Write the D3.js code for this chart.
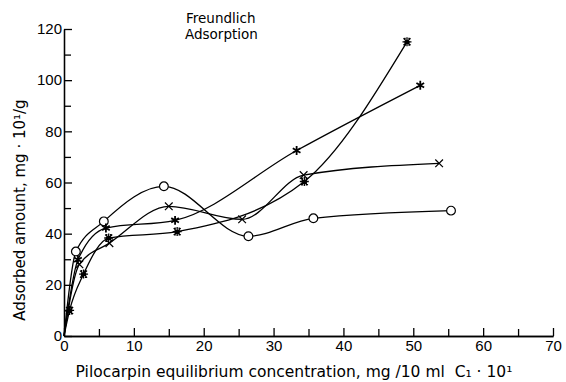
<!DOCTYPE html>
<html>
<head>
<meta charset="utf-8">
<script src="https://cdn.jsdelivr.net/npm/d3@7"></script>
<style>
  body { margin: 0; background: #fff; }
  svg { font-family: "DejaVu Sans", sans-serif; }
  .axis path, .axis line { stroke: #000; stroke-width: 1.3; }
  .axis text { font-size: 15px; fill: #000; }
</style>
</head>
<body>
<div class="chart"></div>
<script>
// values (x = concentration, y = adsorbed amount)
var circleX = [0, 1.7, 5.7, 14.3, 26.4, 35.7, 55.4];
var circleY = [0, 33, 44.8, 58.5, 39, 46, 49];
var crossX = [0, 2.2, 6.5, 15, 25.5, 34.3, 53.7];
var crossY = [0, 28, 36.3, 50.7, 45.6, 62.9, 67.5];
var starX = [0, 2, 6, 15.9, 33.3, 51];
var starY = [0, 29.8, 42.2, 45.2, 72.5, 98];
var hashX = [0, 0.8, 2.8, 6.4, 16.2, 34.4, 49.1];
var hashY = [0, 10, 24.2, 38.3, 40.8, 60.4, 115];
var xTicks = [0, 10, 20, 30, 40, 50, 60, 70];
var yTicks = [0, 20, 40, 60, 80, 100, 120];

var svgWidth = 566;
var svgHeight = 382;

var svg = d3.select('.chart')
  .append('svg')
  .attr('width', svgWidth)
  .attr('height', svgHeight);

var x = d3.scaleLinear().domain([0, 70]).range([64, 553]);
var y = d3.scaleLinear().domain([0, 120]).range([336, 29]);

// minor ticks first, then the labelled ones
svg.append('g').attr('class', 'axis')
  .attr('transform', 'translate(0,' + y(0) + ')')
  .call(d3.axisBottom(x).tickValues(d3.range(5, 70, 10)).tickSize(-7).tickSizeOuter(0).tickFormat(''));
svg.append('g').attr('class', 'axis')
  .attr('transform', 'translate(0,' + y(0) + ')')
  .call(d3.axisBottom(x).tickValues(xTicks).tickSize(-8).tickSizeOuter(0).tickPadding(4));

svg.append('g').attr('class', 'axis')
  .attr('transform', 'translate(' + x(0) + ',0)')
  .call(d3.axisLeft(y).tickValues(d3.range(10, 120, 20)).tickSize(-7).tickSizeOuter(0).tickFormat(''));
svg.append('g').attr('class', 'axis')
  .attr('transform', 'translate(' + x(0) + ',0)')
  .call(d3.axisLeft(y).tickValues(yTicks).tickSize(-8).tickSizeOuter(0).tickPadding(2));

var line = d3.line()
  .x(function(d) { return x(d[0]); })
  .y(function(d) { return y(d[1]); })
  .curve(d3.curveMonotoneX);

var series = [
  {xs: circleX, ys: circleY, mark: 'circle'},
  {xs: crossX, ys: crossY, mark: 'cross'},
  {xs: starX, ys: starY, mark: 'star'},
  {xs: hashX, ys: hashY, mark: 'hash'}
];

// hash-like marker: dense little asterisk
var hashPath = 'M-3.5,-3.5L3.5,3.5M-3.5,3.5L3.5,-3.5M0,-4.5L0,4.5M-4.5,0L4.5,0M-2,-4L-2,4M2,-4L2,4';

series.forEach(function(s) {
  var pts = s.xs.map(function(v, i) { return [v, s.ys[i]]; });
  svg.append('path')
    .datum(pts)
    .attr('d', line)
    .attr('fill', 'none')
    .attr('stroke', '#000')
    .attr('stroke-width', 1.3);

  var marks = svg.selectAll(null)
    .data(pts.slice(1))
    .enter()
    .append('path')
    .attr('transform', function(d) { return 'translate(' + x(d[0]) + ',' + y(d[1]) + ')'; })
    .attr('stroke', '#000');

  if (s.mark == 'circle') {
    marks.attr('d', d3.symbol().type(d3.symbolCircle).size(60)).attr('fill', '#fff').attr('stroke-width', 1.2);
  } else if (s.mark == 'cross') {
    marks.attr('d', d3.symbol().type(d3.symbolTimes).size(40)).attr('fill', 'none').attr('stroke-width', 1.2);
  } else if (s.mark == 'star') {
    marks.attr('d', d3.symbol().type(d3.symbolAsterisk).size(55)).attr('fill', 'none').attr('stroke-width', 1.8);
  } else {
    marks.attr('d', hashPath).attr('fill', 'none').attr('stroke-width', 1.3);
  }
});

// title inside the plot
svg.append('text').attr('x', 186).attr('y', 23).style('font-size', '13.5px').text('Freundlich');
svg.append('text').attr('x', 185).attr('y', 39).style('font-size', '13.5px').text('Adsorption');

// axis titles
svg.append('text')
  .attr('transform', 'translate(25,210) rotate(-90)')
  .attr('text-anchor', 'middle')
  .style('font-size', '15px')
  .text('Adsorbed amount, mg \u00b7 10\u00b9/g');

svg.append('text')
  .attr('x', 294)
  .attr('y', 377)
  .attr('text-anchor', 'middle')
  .attr('xml:space', 'preserve')
  .style('font-size', '15.5px')
  .text('Pilocarpin equilibrium concentration, mg /10 ml  C\u2081 \u00b7 10\u00b9');
</script>
</body>
</html>
